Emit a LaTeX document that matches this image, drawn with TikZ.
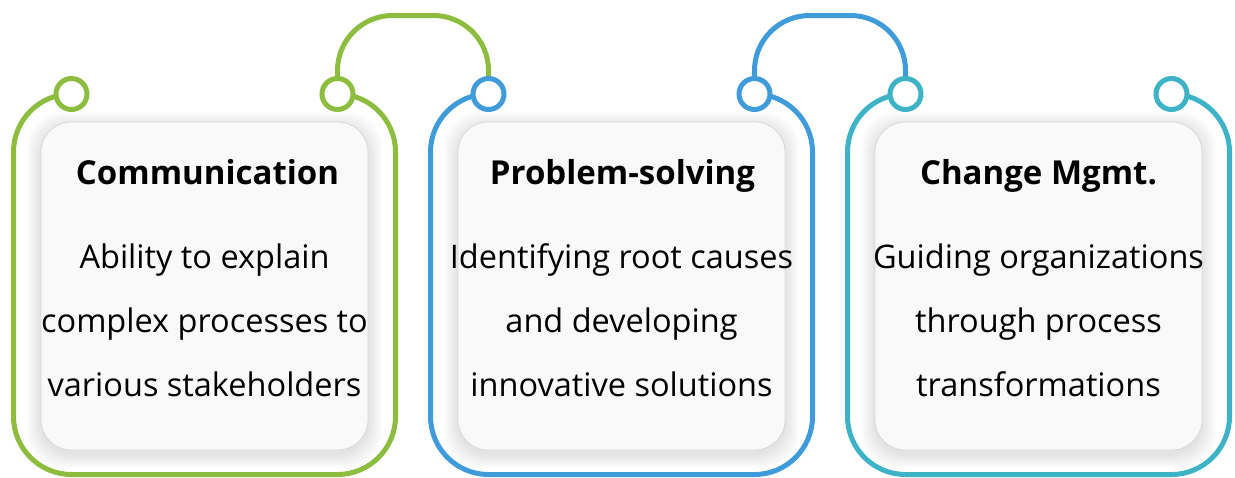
\documentclass[tikz,border=0pt]{standalone}
\usepackage{fontspec}
\setmainfont{Open Sans}
\definecolor{cgreen}{HTML}{8DBD3F}
\definecolor{cblue}{HTML}{3F9BDA}
\definecolor{cteal}{HTML}{3EB2C6}
\definecolor{cardfill}{HTML}{F9F9F9}
\definecolor{cardline}{HTML}{D8D8D8}
\begin{document}
\begin{tikzpicture}[x=1pt,y=-1pt,
  ring/.style={circle, draw=#1, line width=5pt, fill=white, minimum size=31pt, inner sep=0pt},
  frameline/.style={draw=#1, line width=5pt, rounded corners=58pt},
  linkline/.style={draw=#1, line width=5pt, rounded corners=55pt},
  cardbox/.style={fill=cardfill, draw=cardline, line width=0.8pt, rounded corners=30pt},
  titletext/.style={anchor=base, font=\fontsize{33}{40}\selectfont\bfseries, text=black, inner sep=0pt},
  bodytext/.style={anchor=base, font=\fontsize{32.5}{40}\selectfont, text=black, inner sep=0pt}
]
\useasboundingbox (0,0) rectangle (1235,477);
\coordinate (top) at (0,15.5);
\foreach \L/\col/\n/\ttl/\dx/\la/\lb/\lc in {
  13.5/cgreen/1/Communication/3/Ability to explain/complex processes to/various stakeholders,
  430.5/cblue/2/Problem-solving/1/Identifying root causes/and developing/innovative solutions,
  847.5/cteal/3/Change Mgmt./0/Guiding organizations/through process/transformations}{
  % soft shadow around card
  \foreach \k in {1,...,14}{
    \fill[black, opacity=0.009, rounded corners=34pt]
      (\L+27.5-\k, 122-\k+4) rectangle (\L+354.5+\k, 450+\k+4);
  }
  \coordinate (pl\n) at (\L+58,94);
  \coordinate (pr\n) at (\L+324,94);
  \draw[frameline=\col] (pl\n) -- (\L,94) -- (\L,474.5) -- (\L+382,474.5) -- (\L+382,94) -- (pr\n);
  \node[ring=\col] (l\n) at (pl\n) {};
  \node[ring=\col] (r\n) at (pr\n) {};
  \path[cardbox] (\L+27.5,122) rectangle (\L+354.5,450);
  \node[titletext] (t\n) at (\L+191+\dx,184) {\ttl};
  \node[bodytext] (a\n) at (\L+191,268) {\la};
  \node[bodytext] (b\n) at (\L+191,332) {\lb};
  \node[bodytext] (c\n) at (\L+191,396) {\lc};
}
\draw[linkline=cgreen] (r1.north) -- (r1.north |- top) -- (l2.north |- top) -- (l2.north);
\draw[linkline=cblue] (r2.north) -- (r2.north |- top) -- (l3.north |- top) -- (l3.north);
\end{tikzpicture}
\end{document}
